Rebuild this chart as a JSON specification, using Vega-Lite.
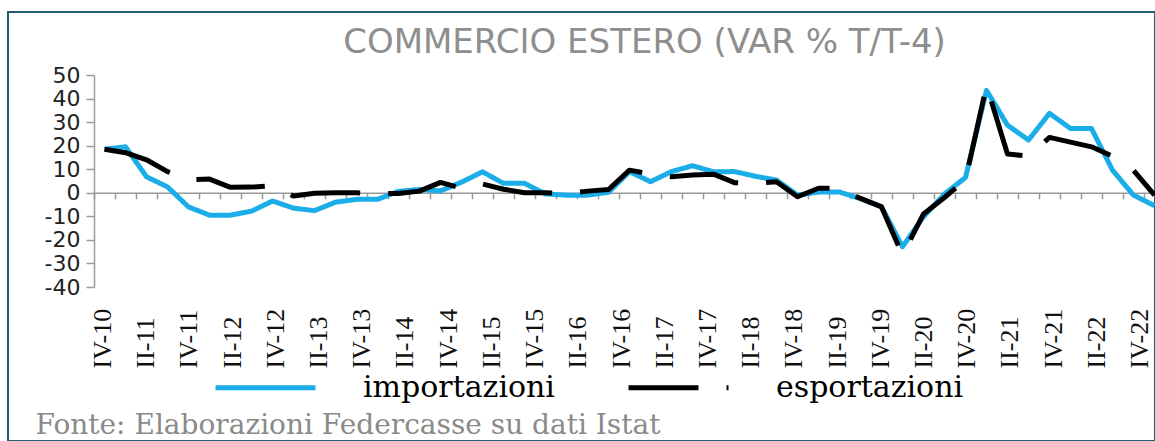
{
  "$schema": "https://vega.github.io/schema/vega-lite/v6.json",
  "width": 1147,
  "height": 429,
  "autosize": {"type": "none"},
  "padding": {"left": 8, "top": 12, "right": 0, "bottom": 0},
  "background": "white",
  "config": {
    "view": {"stroke": "#1e5e6e", "strokeWidth": 2},
    "axis": {"grid": false},
    "legend": {
      "symbolType": "stroke",
      "symbolSize": 10000,
      "symbolStrokeWidth": 5,
      "labelFont": "DejaVu Serif",
      "labelFontSize": 30,
      "labelColor": "#000000",
      "labelOffset": 45,
      "labelLimit": 0,
      "columnPadding": 63,
      "padding": 0
    }
  },
  "title": {
    "text": "COMMERCIO ESTERO (VAR % T/T-4)",
    "anchor": "middle",
    "frame": "group",
    "font": "DejaVu Sans",
    "fontSize": 34,
    "fontWeight": "normal",
    "color": "#8e8e8e",
    "offset": 0,
    "baseline": "alphabetic",
    "dy": 75,
    "dx": 63
  },
  "layer": [
    {
      "data": {
        "values": [
          {"q": "IV-10", "importazioni": 18.5, "esportazioni": 18.5},
          {"q": "I-11", "importazioni": 19.5, "esportazioni": 17},
          {"q": "II-11", "importazioni": 6.8, "esportazioni": 14},
          {"q": "III-11", "importazioni": 2.5, "esportazioni": 9},
          {"q": "IV-11", "importazioni": -6, "esportazioni": 5.5},
          {"q": "I-12", "importazioni": -9.5, "esportazioni": 5.8},
          {"q": "II-12", "importazioni": -9.5, "esportazioni": 2.3},
          {"q": "III-12", "importazioni": -7.8, "esportazioni": 2.4},
          {"q": "IV-12", "importazioni": -3.5, "esportazioni": 3},
          {"q": "I-13", "importazioni": -6.5, "esportazioni": -1.4},
          {"q": "II-13", "importazioni": -7.6, "esportazioni": -0.2},
          {"q": "III-13", "importazioni": -4, "esportazioni": 0},
          {"q": "IV-13", "importazioni": -2.8, "esportazioni": 0},
          {"q": "I-14", "importazioni": -2.8, "esportazioni": -0.3},
          {"q": "II-14", "importazioni": 0.6, "esportazioni": -0.3},
          {"q": "III-14", "importazioni": 1.4, "esportazioni": 0.7},
          {"q": "IV-14", "importazioni": 0.8, "esportazioni": 4.4},
          {"q": "I-15", "importazioni": 4.5, "esportazioni": 1.9},
          {"q": "II-15", "importazioni": 8.9, "esportazioni": 3.7},
          {"q": "III-15", "importazioni": 4, "esportazioni": 1.5},
          {"q": "IV-15", "importazioni": 4, "esportazioni": 0},
          {"q": "I-16", "importazioni": -0.5, "esportazioni": 0},
          {"q": "II-16", "importazioni": -1, "esportazioni": -0.3},
          {"q": "III-16", "importazioni": -1, "esportazioni": 0.7},
          {"q": "IV-16", "importazioni": 0.2, "esportazioni": 1.4},
          {"q": "I-17", "importazioni": 9, "esportazioni": 9.6},
          {"q": "II-17", "importazioni": 4.7, "esportazioni": 8},
          {"q": "III-17", "importazioni": 9, "esportazioni": 6.8},
          {"q": "IV-17", "importazioni": 11.5, "esportazioni": 7.5},
          {"q": "I-18", "importazioni": 8.9, "esportazioni": 7.9},
          {"q": "II-18", "importazioni": 9, "esportazioni": 4.3},
          {"q": "III-18", "importazioni": 7, "esportazioni": 4},
          {"q": "IV-18", "importazioni": 5.4, "esportazioni": 4.7},
          {"q": "I-19", "importazioni": -1, "esportazioni": -1.7},
          {"q": "II-19", "importazioni": 0.3, "esportazioni": 1.9},
          {"q": "III-19", "importazioni": 0.3, "esportazioni": 1.9},
          {"q": "IV-19", "importazioni": -2.5, "esportazioni": -2.4},
          {"q": "I-20", "importazioni": -5.9, "esportazioni": -6},
          {"q": "II-20", "importazioni": -22.9, "esportazioni": -26.5},
          {"q": "III-20", "importazioni": -10.2, "esportazioni": -9},
          {"q": "IV-20", "importazioni": -0.5, "esportazioni": -2},
          {"q": "I-21", "importazioni": 6.5, "esportazioni": 5.5},
          {"q": "II-21", "importazioni": 43.5, "esportazioni": 45.5},
          {"q": "III-21", "importazioni": 28.7, "esportazioni": 16.5},
          {"q": "IV-21", "importazioni": 22.4, "esportazioni": 15.5},
          {"q": "I-22", "importazioni": 33.7, "esportazioni": 23.5},
          {"q": "II-22", "importazioni": 27.3, "esportazioni": 21.5},
          {"q": "III-22", "importazioni": 27.3, "esportazioni": 19.5},
          {"q": "IV-22", "importazioni": 9.6, "esportazioni": 15.5},
          {"q": "I-23", "importazioni": -1, "esportazioni": 9.5},
          {"q": "II-23", "importazioni": -5.5, "esportazioni": -1}
        ]
      },
      "transform": [{"fold": ["importazioni", "esportazioni"], "as": ["serie", "v"]}],
      "mark": {"type": "line", "strokeWidth": 5, "strokeCap": "butt", "strokeJoin": "round"},
      "encoding": {
        "x": {
          "field": "q",
          "type": "ordinal",
          "sort": null,
          "scale": {
            "type": "band",
            "domain": ["IV-10","I-11","II-11","III-11","IV-11","I-12","II-12","III-12","IV-12","I-13","II-13","III-13","IV-13","I-14","II-14","III-14","IV-14","I-15","II-15","III-15","IV-15","I-16","II-16","III-16","IV-16","I-17","II-17","III-17","IV-17","I-18","II-18","III-18","IV-18","I-19","II-19","III-19","IV-19","I-20","II-20","III-20","IV-20","I-21","II-21","III-21","IV-21","I-22","II-22","III-22","IV-22","I-23","II-23"],
            "range": [86, 1157],
            "paddingInner": 0,
            "paddingOuter": 0
          },
          "axis": {
            "orient": "bottom",
            "offset": -248.2,
            "labels": false,
            "ticks": true,
            "tickSize": 6,
            "tickColor": "#9a9a9a",
            "tickWidth": 1.5,
            "domainColor": "#9a9a9a",
            "domainWidth": 1.5,
            "bandPosition": 0,
            "title": null,
            "grid": false
          }
        },
        "y": {
          "field": "v",
          "type": "quantitative",
          "scale": {"domain": [-40, 50], "range": [275, 63], "nice": false, "zero": false},
          "axis": {
            "orient": "left",
            "offset": -86,
            "values": [-40, -30, -20, -10, 0, 10, 20, 30, 40, 50],
            "domainColor": "#9a9a9a",
            "domainWidth": 1.5,
            "tickColor": "#9a9a9a",
            "tickWidth": 1.5,
            "tickSize": 8,
            "labelFont": "DejaVu Sans",
            "labelFontSize": 22,
            "labelColor": "#222222",
            "labelPadding": 6,
            "labelOverlap": false,
            "labelExpr": "toString(datum.value)",
            "title": null,
            "grid": false
          }
        },
        "color": {
          "field": "serie",
          "type": "nominal",
          "scale": {"domain": ["importazioni", "esportazioni"], "range": ["#1aade8", "#000000"]},
          "legend": {"orient": "none", "legendX": 205, "legendY": 323, "direction": "horizontal", "title": null}
        },
        "strokeDash": {
          "field": "serie",
          "type": "nominal",
          "scale": {"domain": ["importazioni", "esportazioni"], "range": [[1, 0], [70, 28]]},
          "legend": {"orient": "none", "legendX": 205, "legendY": 323, "direction": "horizontal", "title": null}
        }
      }
    },
    {
      "data": {
        "values": [
          {"lab": "IV-10"}, {"lab": "II-11"}, {"lab": "IV-11"}, {"lab": "II-12"}, {"lab": "IV-12"},
          {"lab": "II-13"}, {"lab": "IV-13"}, {"lab": "II-14"}, {"lab": "IV-14"}, {"lab": "II-15"},
          {"lab": "IV-15"}, {"lab": "II-16"}, {"lab": "IV-16"}, {"lab": "II-17"}, {"lab": "IV-17"},
          {"lab": "II-18"}, {"lab": "IV-18"}, {"lab": "II-19"}, {"lab": "IV-19"}, {"lab": "II-20"},
          {"lab": "IV-20"}, {"lab": "II-21"}, {"lab": "IV-21"}, {"lab": "II-22"}, {"lab": "IV-22"}
        ]
      },
      "mark": {"type": "point", "opacity": 0},
      "encoding": {
        "x": {
          "field": "lab",
          "type": "ordinal",
          "sort": null,
          "scale": {"type": "band", "range": [73.4, 1153.6], "paddingInner": 0, "paddingOuter": 0},
          "axis": {
            "orient": "bottom",
            "offset": -154,
            "domain": false,
            "ticks": false,
            "tickSize": 0,
            "labelAngle": 270,
            "labelAlign": "left",
            "labelBaseline": "middle",
            "labelPadding": 81,
            "labelFont": "Liberation Serif",
            "labelFontSize": 26,
            "labelColor": "#111111",
            "labelOverlap": false,
            "labelBound": false,
            "title": "Fonte: Elaborazioni Federcasse su dati Istat",
            "titleFont": "DejaVu Serif",
            "titleFontSize": 28,
            "titleFontWeight": "normal",
            "titleColor": "#8a8a8a",
            "titleX": 27,
            "titleY": 146,
            "titleAlign": "left",
            "titleAnchor": "start",
            "titleBaseline": "alphabetic",
            "titleAngle": 0,
            "grid": false
          }
        }
      }
    }
  ],
  "resolve": {"scale": {"x": "independent"}, "axis": {"x": "independent"}}
}
